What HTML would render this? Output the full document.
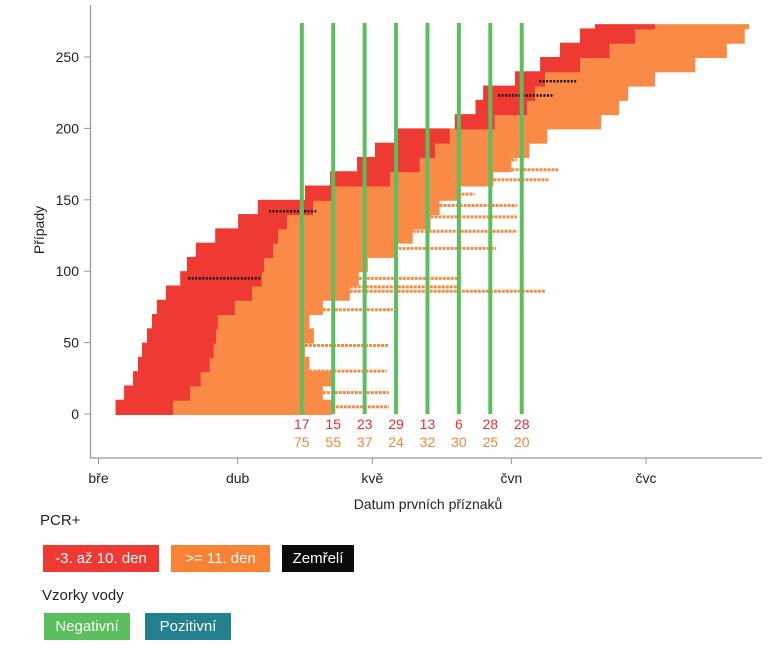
<!DOCTYPE html>
<html><head><meta charset="utf-8"><style>
body{margin:0;background:#fff;font-family:"Liberation Sans",sans-serif;}
#wrap{position:relative;width:776px;height:645px;overflow:hidden;}
.lg{position:absolute;color:#fff;font-size:15px;line-height:27px;text-align:center;height:27px;}
.tt{position:absolute;font-size:15px;color:#222;}
</style></head><body>
<div id="wrap">
<svg id="chart" width="776" height="520" style="position:absolute;left:0;top:0"></svg>
<div class="tt" style="left:40px;top:512px">PCR+</div>
<div class="lg" style="left:43px;top:545px;width:116px;background:#ef3a33">-3. až 10. den</div>
<div class="lg" style="left:171px;top:545px;width:99px;background:#fa8234">&gt;= 11. den</div>
<div class="lg" style="left:282px;top:545px;width:72px;background:#0a0a0a">Zemřelí</div>
<div class="tt" style="left:42px;top:587px">Vzorky vody</div>
<div class="lg" style="left:44px;top:613px;width:86px;background:#5bbf5d">Negativní</div>
<div class="lg" style="left:145px;top:613px;width:86px;background:#23808f">Pozitivní</div>
</div>
<script>
const bandStart=[0,10,20,30,40,50,60,70,80,90,100,110,120,130,140,150,160,170,180,190,200,210,220,230,240,250,260,270];
const onsetDay=[3.8,5.7,7.7,8.8,9.7,10.8,11.9,13.0,15.0,18.2,19.7,21.7,26.0,31.1,35.5,46.0,51.6,57.6,61.6,66.7,79.4,84.0,85.7,92.8,98.4,102.8,107.3,110.6];
const redEndDay=[16.6,20.4,22.8,24.8,25.7,26.2,26.6,30.4,34.2,36.4,36.9,38.9,40.0,42.0,47.8,52.7,65.0,71.6,75.0,78.3,88.3,95.5,97.3,99.5,107.3,113.9,119.6,124.0];
const orangeEndDay=[52,50,52,47,46,48,47,50,56,58,60,66,70,74,76,80,88,92,96,100,112,116,118,124,133,140,144,145];
const longCase=[5,15,30,48,73,86,89,95,105,116,128,138,146,154,164,171,178];
const longEnd=[64.7,64.7,64.2,64.7,65.6,99.5,80,80,56.2,88.6,93.3,93.3,93.3,83.8,100.4,102.4,93.3];
const deathCase=[95,142,223,233];
const deathStart=[20,38,89,98.2];
const deathEnd=[36.2,48.5,101.5,106.6];
const sampleDay=[45.3,52.3,59.3,66.3,73.3,80.3,87.3,94.3];
const earlyCount=[17,15,23,29,13,6,28,28];
const lateCount=[75,55,37,24,32,30,25,20];
const yTicks=[0,50,100,150,200,250];
const monthDay=[0,31,61,92,122];
const monthLabel=["bře","dub","kvě","čvn","čvc"];
const totalCases=273;

const NS="http://www.w3.org/2000/svg";
const svg=document.getElementById('chart');
const X=d=>98.5+d*4.488;
const Y=c=>414-c*1.428;
function mk(tag,a,parent){const e=document.createElementNS(NS,tag);for(const k in a)e.setAttribute(k,a[k]);(parent||svg).appendChild(e);return e;}

for(let i=0;i<bandStart.length;i++){
  const c0=bandStart[i],c1=Math.min(bandStart[i]+10,totalCases);
  const y0=Y(c1),h=Y(c0)-Y(c1)+1;
  const o=mk('rect',{x:X(redEndDay[i]),y:y0,width:Math.max(0,X(orangeEndDay[i])-X(redEndDay[i])),height:h,fill:'#f98b46'});
  
  
  const rr=mk('rect',{x:X(onsetDay[i]),y:y0,width:X(redEndDay[i])-X(onsetDay[i]),height:h,fill:'#ef3a33'});
  
  
}
for(let i=0;i<longCase.length;i++){
  let b=Math.min(Math.floor(longCase[i]/10),bandStart.length-1);
  const l=mk('line',{x1:X(orangeEndDay[b]),x2:X(longEnd[i]),y1:Y(longCase[i]),y2:Y(longCase[i]),stroke:'#f98b46','stroke-width':3,'stroke-dasharray':'3 1'});
  
  
}
for(let i=0;i<deathCase.length;i++){
  const l=mk('line',{x1:X(deathStart[i]),x2:X(deathEnd[i]),y1:Y(deathCase[i]),y2:Y(deathCase[i]),stroke:'#111','stroke-width':2.5,'stroke-dasharray':'2 1.5'});
  
  
}
for(let i=0;i<sampleDay.length;i++){
  const x=X(sampleDay[i]);
  const g=mk('line',{x1:x,x2:x,y1:23,y2:414,stroke:'#5bbf5d','stroke-width':4});
  
  
  const t1=mk('text',{x:x,y:429,'text-anchor':'middle','font-size':14,fill:'#e8322c'});t1.textContent=earlyCount[i];
  
  
  const t2=mk('text',{x:x,y:447,'text-anchor':'middle','font-size':14,fill:'#f7853a'});t2.textContent=lateCount[i];
  
  
}
const ya=mk('line',{x1:90.5,x2:90.5,y1:5,y2:458,stroke:'#999','stroke-width':1.3});


const xa=mk('line',{x1:90,x2:762,y1:458,y2:458,stroke:'#999','stroke-width':1.3});


for(const v of yTicks){
  mk('line',{x1:84,x2:90,y1:Y(v),y2:Y(v),stroke:'#999'});
  const t=mk('text',{x:79,y:Y(v)+5,'text-anchor':'end','font-size':14,fill:'#222'});t.textContent=v;
  
  
}
for(let i=0;i<monthDay.length;i++){
  const x=X(monthDay[i]);
  mk('line',{x1:x,x2:x,y1:458,y2:464,stroke:'#999'});
  const t=mk('text',{x:x,y:483,'text-anchor':'middle','font-size':14,fill:'#222'});t.textContent=monthLabel[i];
  
  
}
const yt=mk('text',{x:0,y:0,transform:'translate(44,230) rotate(-90)','text-anchor':'middle','font-size':14,fill:'#222'});yt.textContent='Případy';


const xt=mk('text',{x:428,y:509,'text-anchor':'middle','font-size':14,fill:'#222'});xt.textContent='Datum prvních příznaků';


</script>
</body></html>
